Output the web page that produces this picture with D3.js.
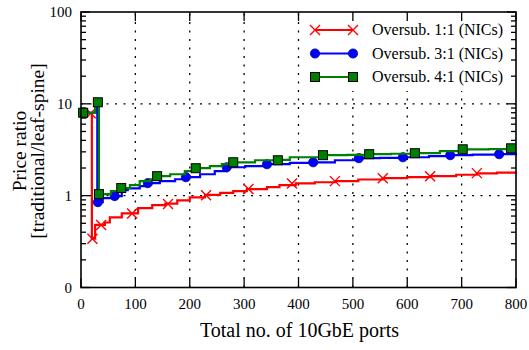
<!DOCTYPE html>
<html><head><meta charset="utf-8">
<script src="https://cdn.jsdelivr.net/npm/d3@7"></script>
<style>body{margin:0;background:#fff}svg{display:block}</style>
</head><body><svg id="c" width="529" height="350"></svg>
<script>
// ---- data ----
const xTicks = [0,100,200,300,400,500,600,700,800];
const yTicks = [0.1,1,10,100];
const yTickLabels = ["0","1","10","100"];
const seriesNames = ["Oversub. 1:1 (NICs)","Oversub. 3:1 (NICs)","Oversub. 4:1 (NICs)"];

// staircase lines (step-after)
const redX = [3,19,20,26,44,53,75,105,131,155,177,200,228,256,280,305,342,365,395,430,467,510,555,600,642,690,728,765,800];
const redV = [7.9,7.9,0.34,0.48,0.51,0.58,0.64,0.73,0.79,0.82,0.89,0.96,1.02,1.07,1.12,1.18,1.24,1.30,1.36,1.40,1.44,1.50,1.55,1.59,1.63,1.69,1.75,1.78,1.80];
const blueX = [3,27,30,40,62,75,86,108,123,145,173,193,219,246,268,302,342,384,427,467,511,550,592,640,679,720,769,800];
const blueV = [8.0,10.3,0.85,0.94,0.99,1.15,1.20,1.27,1.37,1.44,1.51,1.59,1.71,1.85,2.04,2.10,2.20,2.28,2.31,2.43,2.56,2.58,2.62,2.70,2.76,2.80,2.83,2.90];
const greenX = [3,26,33,55,74,90,108,127,140,164,191,211,237,259,280,320,362,384,445,490,530,570,614,660,702,750,791,800];
const greenV = [8.0,10.4,1.04,1.12,1.21,1.30,1.44,1.51,1.63,1.71,1.85,1.99,2.10,2.20,2.31,2.43,2.45,2.62,2.76,2.78,2.83,2.86,2.90,3.05,3.20,3.22,3.28,3.28];

// markers
const redMX = [18,21,37,94,160,230,308,388,467,555,642,728];
const redMV = [7.9,0.34,0.48,0.64,0.81,1.01,1.18,1.36,1.44,1.55,1.63,1.76];
const blueMX = [4,31,62,123,193,268,342,427,511,592,679,769];
const blueMV = [8.0,0.85,0.99,1.37,1.59,2.04,2.20,2.31,2.56,2.62,2.76,2.83];
const greenMX = [4,31,33,74,140,211,280,362,445,530,614,702,791];
const greenMV = [8.0,10.4,1.04,1.21,1.63,1.99,2.31,2.43,2.76,2.83,2.90,3.20,3.28];

// ---- drawing ----
const svg = d3.select("#c");
const L=81, R=516, T=12, B=287.5;
const x = d3.scaleLinear().domain([0,800]).range([L,R]);
const y = d3.scaleLog().domain([0.1,100]).range([B,T]);
const FONT = "'Liberation Serif','Times New Roman',serif";

// grid
const grid = svg.append("g").attr("stroke","#000").attr("stroke-width",1.3).attr("stroke-dasharray","2,6.5");
xTicks.filter(d=>d>0&&d<800).forEach(d=>grid.append("line").attr("x1",x(d)).attr("x2",x(d)).attr("y1",B).attr("y2",T));
yTicks.filter(d=>d>0.1&&d<100).forEach(d=>grid.append("line").attr("x1",L).attr("x2",R).attr("y1",y(d)).attr("y2",y(d)));

// legend background
svg.append("rect").attr("x",302).attr("y",T+1).attr("width",R-302-1).attr("height",78).attr("fill","#fff");

// ticks
const tk = svg.append("g").attr("stroke","#000").attr("stroke-width",1.3);
xTicks.forEach(d=>{
  tk.append("line").attr("x1",x(d)).attr("x2",x(d)).attr("y1",B).attr("y2",B-9);
  tk.append("line").attr("x1",x(d)).attr("x2",x(d)).attr("y1",T).attr("y2",T+9);
});
const minor = [];
for (let e=-1;e<2;e++) for (let m=2;m<=9;m++) minor.push(m*Math.pow(10,e));
yTicks.forEach(d=>{
  tk.append("line").attr("x1",L).attr("x2",L+9).attr("y1",y(d)).attr("y2",y(d));
  tk.append("line").attr("x1",R).attr("x2",R-9).attr("y1",y(d)).attr("y2",y(d));
});
minor.forEach(d=>{
  tk.append("line").attr("x1",L).attr("x2",L+5).attr("y1",y(d)).attr("y2",y(d));
  tk.append("line").attr("x1",R).attr("x2",R-5).attr("y1",y(d)).attr("y2",y(d));
});

// series
const colors = ["#ff0000","#0000ff","#008000"];
const lines = [[redX,redV],[blueX,blueV],[greenX,greenV]];
const marks = [[redMX,redMV],[blueMX,blueMV],[greenMX,greenMV]];
const lineGen = d3.line().x(d=>x(d[0])).y(d=>y(d[1])).curve(d3.curveStepAfter);

function marker(g, type, cx, cy){
  if(type===0){
    g.append("path").attr("d",`M${cx-5},${cy-5}L${cx+5},${cy+5}M${cx-5},${cy+5}L${cx+5},${cy-5}`)
      .attr("stroke",colors[0]).attr("stroke-width",1.4).attr("fill","none");
  } else if(type===1){
    g.append("circle").attr("cx",cx).attr("cy",cy).attr("r",4.6).attr("fill","#0000ff").attr("stroke","#00008a").attr("stroke-width",0.8);
  } else {
    g.append("rect").attr("x",cx-4.5).attr("y",cy-4.5).attr("width",9).attr("height",9).attr("fill","#008000").attr("stroke","#000").attr("stroke-width",1);
  }
}

lines.forEach((s,i)=>{
  const pts = s[0].map((v,j)=>[v,s[1][j]]);
  svg.append("path").datum(pts).attr("d",lineGen).attr("fill","none").attr("stroke",colors[i]).attr("stroke-width",2.2);
  const g = svg.append("g");
  marks[i][0].forEach((v,j)=>marker(g,i,x(v),y(marks[i][1][j])));
});

// frame
svg.append("rect").attr("x",L).attr("y",T).attr("width",R-L).attr("height",B-T).attr("fill","none").attr("stroke","#000").attr("stroke-width",1.6);

// tick labels
const lab = svg.append("g").attr("font-family",FONT).attr("font-size",15).attr("fill","#000");
xTicks.forEach(d=>lab.append("text").attr("x",x(d)).attr("y",309).attr("text-anchor","middle").text(d));
yTicks.forEach((d,i)=>lab.append("text").attr("x",72).attr("y",y(d)+5).attr("text-anchor","end").text(yTickLabels[i]));

// axis titles
svg.append("text").attr("x",(L+R)/2+1).attr("y",337).attr("text-anchor","middle").attr("font-family",FONT).attr("font-size",20).text("Total no. of 10GbE ports");
const yt = svg.append("text").attr("transform","translate(0,151) rotate(-90)").attr("text-anchor","middle").attr("font-family",FONT).attr("font-size",19.5);
yt.append("tspan").attr("x",0).attr("y",26).text("Price ratio");
yt.append("tspan").attr("x",0).attr("y",44).text("[traditional/leaf-spine]");

// legend
const lg = svg.append("g");
seriesNames.forEach((n,i)=>{
  const ly = 30 + i*23.5;
  lg.append("line").attr("x1",315).attr("x2",353).attr("y1",ly).attr("y2",ly).attr("stroke",colors[i]).attr("stroke-width",2.2);
  marker(lg,i,315,ly); marker(lg,i,353,ly);
  lg.append("text").attr("x",372).attr("y",ly+5).attr("font-family",FONT).attr("font-size",16).text(n);
});
</script></body></html>
